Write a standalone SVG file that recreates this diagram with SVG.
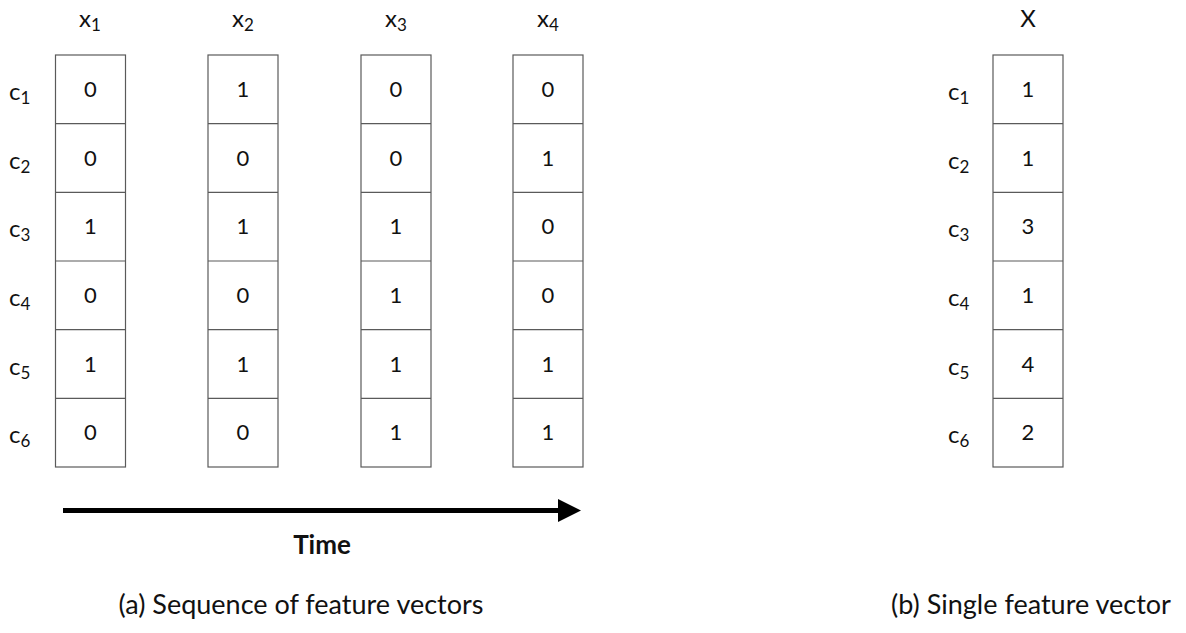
<svg xmlns="http://www.w3.org/2000/svg" width="1186" height="633" viewBox="0 0 1186 633">
  <style>
    text { font-family: Lato, "Liberation Sans", sans-serif; fill: #111; }
    .cell { fill: #fff; stroke: #5a5a5a; stroke-width: 1.2; }
    .val { font-size: 22px; text-anchor: middle; }
    .head { font-size: 24px; text-anchor: middle; }
    .row { font-size: 24px; }
    .sub { font-size: 17px; }
    .cap { font-size: 27px; text-anchor: middle; }
    .bold { font-size: 26px; font-weight: bold; text-anchor: middle; }
  </style>
  <defs>
    <!-- one column of six cells, 70 wide, 68.67 tall each -->
    <g id="column">
      <rect class="cell" x="0" y="0" width="70" height="412"/>
      <line class="cell" x1="0" y1="68.67" x2="70" y2="68.67"/>
      <line class="cell" x1="0" y1="137.33" x2="70" y2="137.33"/>
      <line class="cell" x1="0" y1="206" x2="70" y2="206"/>
      <line class="cell" x1="0" y1="274.67" x2="70" y2="274.67"/>
      <line class="cell" x1="0" y1="343.33" x2="70" y2="343.33"/>
    </g>
    <marker id="head" markerWidth="4.6" markerHeight="4.6" refX="0" refY="2.3" orient="auto" markerUnits="strokeWidth">
      <path d="M0,0 L4.6,2.3 L0,4.6 Z" fill="#000"/>
    </marker>
  </defs>

  <!-- row labels, left panel -->
  <g id="rowLabelsA">
    <text class="row" x="9" y="100">c<tspan class="sub" dy="4">1</tspan></text>
    <text class="row" x="9" y="169">c<tspan class="sub" dy="4">2</tspan></text>
    <text class="row" x="9" y="237">c<tspan class="sub" dy="4">3</tspan></text>
    <text class="row" x="9" y="306">c<tspan class="sub" dy="4">4</tspan></text>
    <text class="row" x="9" y="375">c<tspan class="sub" dy="4">5</tspan></text>
    <text class="row" x="9" y="443">c<tspan class="sub" dy="4">6</tspan></text>
  </g>

  <g id="x1">
    <text class="head" x="90" y="27">x<tspan class="sub" dy="4">1</tspan></text>
    <use href="#column" x="55.5" y="55"/>
    <text class="val" x="90.5" y="97">0</text>
    <text class="val" x="90.5" y="166">0</text>
    <text class="val" x="90.5" y="234">1</text>
    <text class="val" x="90.5" y="303">0</text>
    <text class="val" x="90.5" y="372">1</text>
    <text class="val" x="90.5" y="440">0</text>
  </g>

  <g id="x2">
    <text class="head" x="243" y="27">x<tspan class="sub" dy="4">2</tspan></text>
    <use href="#column" x="208" y="55"/>
    <text class="val" x="243" y="97">1</text>
    <text class="val" x="243" y="166">0</text>
    <text class="val" x="243" y="234">1</text>
    <text class="val" x="243" y="303">0</text>
    <text class="val" x="243" y="372">1</text>
    <text class="val" x="243" y="440">0</text>
  </g>

  <g id="x3">
    <text class="head" x="396" y="27">x<tspan class="sub" dy="4">3</tspan></text>
    <use href="#column" x="361" y="55"/>
    <text class="val" x="396" y="97">0</text>
    <text class="val" x="396" y="166">0</text>
    <text class="val" x="396" y="234">1</text>
    <text class="val" x="396" y="303">1</text>
    <text class="val" x="396" y="372">1</text>
    <text class="val" x="396" y="440">1</text>
  </g>

  <g id="x4">
    <text class="head" x="548" y="27">x<tspan class="sub" dy="4">4</tspan></text>
    <use href="#column" x="513" y="55"/>
    <text class="val" x="548" y="97">0</text>
    <text class="val" x="548" y="166">1</text>
    <text class="val" x="548" y="234">0</text>
    <text class="val" x="548" y="303">0</text>
    <text class="val" x="548" y="372">1</text>
    <text class="val" x="548" y="440">1</text>
  </g>

  <g id="connectors">
    <line x1="63" y1="510.5" x2="558" y2="510.5" stroke="#000" stroke-width="5" marker-end="url(#head)"/>
  </g>

  <g id="timeLabel">
    <text class="bold" x="322" y="554">Time</text>
  </g>

  <g id="captionA">
    <text class="cap" x="301" y="614">(a) Sequence of feature vectors</text>
  </g>

  <!-- right panel -->
  <g id="rowLabelsB">
    <text class="row" x="948" y="100">c<tspan class="sub" dy="4">1</tspan></text>
    <text class="row" x="948" y="169">c<tspan class="sub" dy="4">2</tspan></text>
    <text class="row" x="948" y="237">c<tspan class="sub" dy="4">3</tspan></text>
    <text class="row" x="948" y="306">c<tspan class="sub" dy="4">4</tspan></text>
    <text class="row" x="948" y="375">c<tspan class="sub" dy="4">5</tspan></text>
    <text class="row" x="948" y="443">c<tspan class="sub" dy="4">6</tspan></text>
  </g>

  <g id="X">
    <text class="head" x="1028" y="27">X</text>
    <use href="#column" x="993" y="55"/>
    <text class="val" x="1028" y="97">1</text>
    <text class="val" x="1028" y="166">1</text>
    <text class="val" x="1028" y="234">3</text>
    <text class="val" x="1028" y="303">1</text>
    <text class="val" x="1028" y="372">4</text>
    <text class="val" x="1028" y="440">2</text>
  </g>

  <g id="captionB">
    <text class="cap" x="1031" y="614">(b) Single feature vector</text>
  </g>
</svg>
